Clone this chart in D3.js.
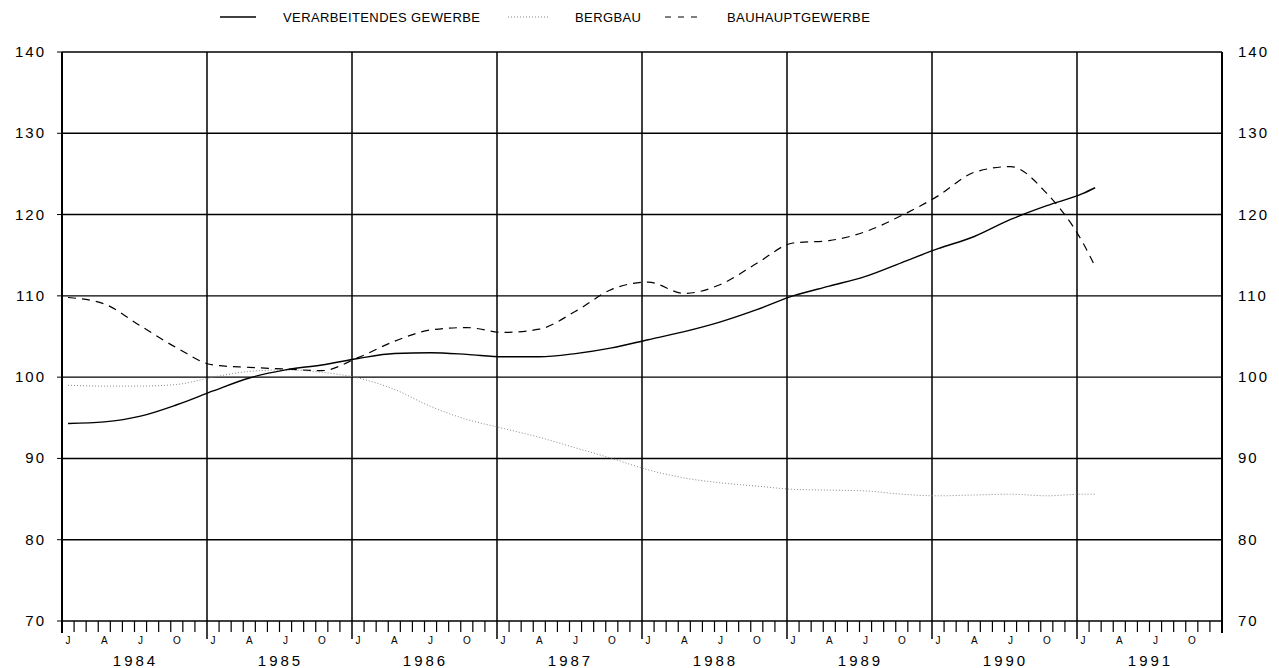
<!DOCTYPE html>
<html>
<head>
<meta charset="utf-8">
<script src="https://cdn.jsdelivr.net/npm/d3@7"></script>
<style>
    body { margin: 0; background: #fff; }
    text { font-family: "Liberation Sans", Arial, sans-serif; fill: #000; }
</style>
</head>
<body>
<svg id="chart"></svg>
<script>
// months counted from Jan 1984 (0) - quarterly readings plus last month
var months = [0, 3, 6, 9, 12, 15, 18, 21, 24, 27, 30, 33, 36, 39, 42, 45, 48, 51,
    54, 57, 60, 63, 66, 69, 72, 75, 78, 81, 84, 85];

var verarbeitend = [94.3, 94.5, 95.2, 96.6, 98.3, 99.9, 100.9, 101.5, 102.3, 102.9,
    103.0, 102.8, 102.5, 102.5, 102.9, 103.6, 104.6, 105.6, 106.8, 108.3, 110.0,
    111.2, 112.4, 114.1, 115.8, 117.3, 119.4, 121.1, 122.6, 123.3];

var bergbau = [99.0, 98.9, 98.9, 99.1, 100.0, 100.7, 100.9, 100.6, 99.9, 98.5,
    96.4, 94.8, 93.7, 92.6, 91.3, 90.0, 88.6, 87.6, 87.0, 86.6, 86.2, 86.1, 86.0,
    85.6, 85.4, 85.5, 85.6, 85.4, 85.6, 85.6];

var bauhaupt = [109.8, 109.0, 106.3, 103.6, 101.5, 101.2, 101.0, 100.8, 102.4, 104.4,
    105.8, 106.1, 105.5, 105.9, 108.1, 110.8, 111.7, 110.3, 111.4, 114.0, 116.5,
    116.8, 117.9, 119.9, 122.3, 125.2, 125.9, 122.6, 116.5, 113.6];

var years = [1984, 1985, 1986, 1987, 1988, 1989, 1990, 1991];
var monthLetters = ["J", "A", "J", "O"];
var yTicks = [70, 80, 90, 100, 110, 120, 130, 140];

var seriesNames = ["VERARBEITENDES GEWERBE", "BERGBAU", "BAUHAUPTGEWERBE"];

function makeChart() {
    var W = 1279, H = 668;
    var left = 62, right = 1222, top = 52, bottom = 621;

    var svg = d3.select("#chart").attr("width", W).attr("height", H);

    // x counts months, each year is 12 of them
    var scX = d3.scaleLinear().domain([0, years.length * 12]).range([left, right]);
    var scY = d3.scaleLinear().domain([70, 140]).range([bottom, top]);

    // horizontal grid
    svg.append("g").selectAll("line")
        .data(yTicks).enter().append("line")
        .attr("x1", left).attr("x2", right)
        .attr("y1", d => scY(d)).attr("y2", d => scY(d))
        .attr("stroke", "#000").attr("stroke-width", 1.4);

    // year lines go a bit below the axis
    svg.append("g").selectAll("line")
        .data(d3.range(years.length + 1)).enter().append("line")
        .attr("x1", d => scX(d * 12)).attr("x2", d => scX(d * 12))
        .attr("y1", top).attr("y2", d => (d == 0 || d == years.length) ? bottom + 12 : bottom + 18)
        .attr("stroke", "#000").attr("stroke-width", d => (d == 0 || d == years.length) ? 2 : 1.5);

    // month ticks
    svg.append("g").selectAll("line")
        .data(d3.range(years.length * 12).filter(d => d % 12 != 0)).enter().append("line")
        .attr("x1", d => scX(d)).attr("x2", d => scX(d))
        .attr("y1", bottom).attr("y2", bottom + 11)
        .attr("stroke", "#000").attr("stroke-width", 1.2);

    // little ticks outside the frame
    svg.append("g").selectAll("line")
        .data(yTicks).enter().append("line")
        .attr("x1", left - 5).attr("x2", left)
        .attr("y1", d => scY(d)).attr("y2", d => scY(d))
        .attr("stroke", "#000");

    // y labels on both sides
    svg.append("g").selectAll("text")
        .data(yTicks).enter().append("text")
        .attr("x", 46).attr("y", d => scY(d) + 5)
        .attr("text-anchor", "end")
        .style("font-size", "15px").style("letter-spacing", "2px")
        .text(d => d);
    svg.append("g").selectAll("text")
        .data(yTicks).enter().append("text")
        .attr("x", 1238).attr("y", d => scY(d) + 5)
        .style("font-size", "15px").style("letter-spacing", "2px")
        .text(d => d);

    // J A J O under every year
    var letterData = [];
    years.forEach(function (yr, i) {
        monthLetters.forEach(function (l, j) {
            letterData.push({ m: i * 12 + j * 3, t: l });
        });
    });
    svg.append("g").selectAll("text")
        .data(letterData).enter().append("text")
        .attr("x", d => scX(d.m + 0.5)).attr("y", bottom + 23)
        .attr("text-anchor", "middle")
        .style("font-size", "10px")
        .text(d => d.t);

    svg.append("g").selectAll("text")
        .data(years).enter().append("text")
        .attr("x", (d, i) => scX(i * 12 + 6) + 1).attr("y", bottom + 45)
        .attr("text-anchor", "middle")
        .style("font-size", "15px").style("letter-spacing", "3px")
        .text(d => d);

    // the three series, points sit in the middle of their month
    var lineMaker = d3.line()
        .curve(d3.curveMonotoneX)
        .x((d, i) => scX(months[i] + 0.5))
        .y(d => scY(d));

    svg.append("path")
        .attr("fill", "none").attr("stroke", "#888")
        .attr("stroke-width", 1).attr("stroke-dasharray", "1,2")
        .attr("d", lineMaker(bergbau));

    svg.append("path")
        .attr("fill", "none").attr("stroke", "#000")
        .attr("stroke-width", 1.2).attr("stroke-dasharray", "8,6")
        .attr("d", lineMaker(bauhaupt));

    svg.append("path")
        .attr("fill", "none").attr("stroke", "#000")
        .attr("stroke-width", 1.4)
        .attr("d", lineMaker(verarbeitend));

    // legend
    var legX = [220, 508, 665];
    var legTxt = [283, 575, 727];
    var legStyle = [
        { c: "#000", w: 1.4, dash: null, len: 36 },
        { c: "#888", w: 1, dash: "1,2", len: 40 },
        { c: "#000", w: 1.2, dash: "6,7", len: 36 }
    ];
    var leg = svg.append("g");
    leg.selectAll("line")
        .data(seriesNames).enter().append("line")
        .attr("x1", (d, i) => legX[i]).attr("x2", (d, i) => legX[i] + legStyle[i].len)
        .attr("y1", 17).attr("y2", 17)
        .attr("stroke", (d, i) => legStyle[i].c)
        .attr("stroke-width", (d, i) => legStyle[i].w)
        .attr("stroke-dasharray", (d, i) => legStyle[i].dash);
    leg.selectAll("text")
        .data(seriesNames).enter().append("text")
        .attr("x", (d, i) => legTxt[i]).attr("y", 22)
        .style("font-size", "13px").style("letter-spacing", "0.4px")
        .text(d => d);
}

makeChart();
</script>
</body>
</html>
